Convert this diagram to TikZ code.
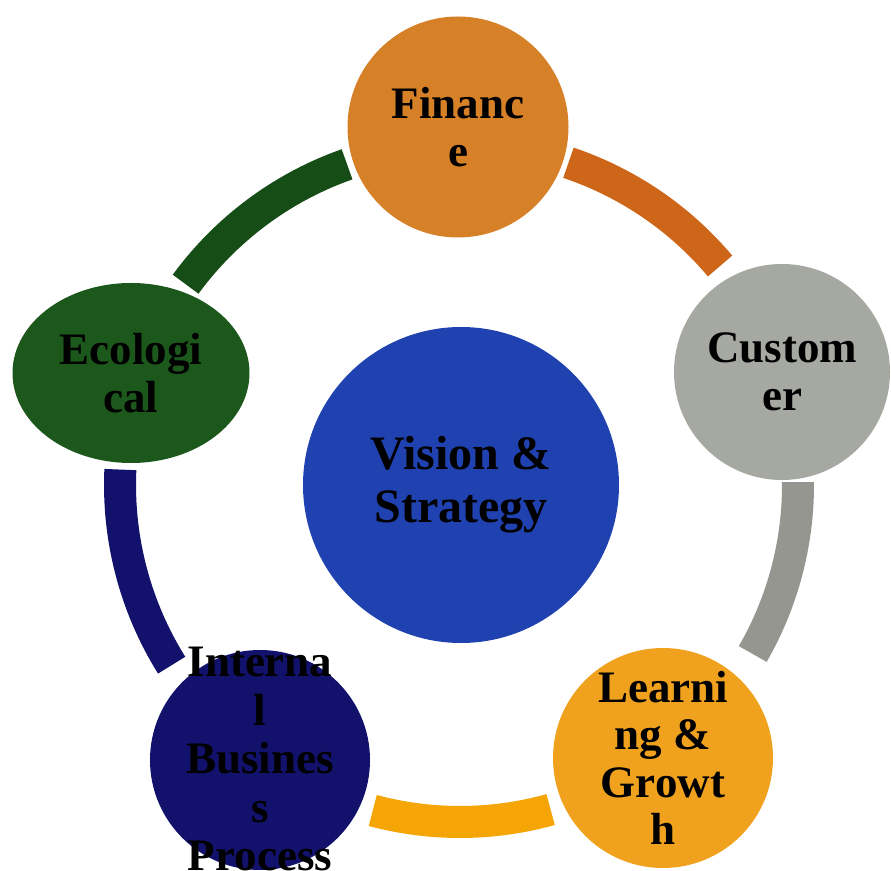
\documentclass[tikz,border=0pt]{standalone}
\usepackage{fontspec}
\setmainfont{Liberation Serif}
\usetikzlibrary{shapes.geometric}
\definecolor{finC}{RGB}{214,128,40}
\definecolor{finA}{RGB}{205,102,24}
\definecolor{cusC}{RGB}{166,168,162}
\definecolor{cusA}{RGB}{150,150,145}
\definecolor{lrnC}{RGB}{240,162,30}
\definecolor{lrnA}{RGB}{245,165,5}
\definecolor{ibpC}{RGB}{18,18,108}
\definecolor{ecoC}{RGB}{28,88,28}
\definecolor{ecoA}{RGB}{22,76,22}
\definecolor{visC}{RGB}{32,66,176}
\begin{document}
\begin{tikzpicture}[x=1pt,y=1pt,
  disc/.style={circle,inner sep=0pt,minimum size=#1},
  ringarc/.style={line width=32pt},
  lbl/.style={align=center,font=\bfseries\fontsize{45}{47.5}\selectfont,text=black,inner sep=0pt},
  biglbl/.style={align=center,font=\bfseries\fontsize{48}{53}\selectfont,text=black,inner sep=0pt}]
\useasboundingbox (0,0) rectangle (891,870);
\clip (0,0) rectangle (891,870);
% discs
\node[disc=316pt, fill=visC] (vis) at (461,385) {};
\coordinate (rc) at (460,385);
\node[disc=221pt, fill=finC] (fin) at (458,743) {};
\node[disc=216pt, fill=cusC] (cus) at (782,498) {};
\node[disc=220pt, fill=lrnC] (lrn) at (663,112) {};
\node[disc=220pt, fill=ibpC] (ibp) at (260,110) {};
\node[ellipse, inner sep=0pt, minimum width=237pt, minimum height=180pt, fill=ecoC] (eco) at (131,497) {};
% ring segments (eco -> fin -> cus -> lrn -> ibp -> eco)
\draw[ringarc, draw=ecoA] ([shift={(143.8:340)}]rc) arc[start angle=143.8, end angle=109.4, radius=340];
\draw[ringarc, draw=finA] ([shift={(71.4:340)}]rc) arc[start angle=71.4, end angle=40.1, radius=340];
\draw[ringarc, draw=cusA] ([shift={(0.5:338)}]rc) arc[start angle=0.5, end angle=-30, radius=338];
\draw[ringarc, draw=lrnA] ([shift={(-74.4:337)}]rc) arc[start angle=-74.4, end angle=-105, radius=337];
\draw[ringarc, draw=ibpC] ([shift={(-148:340)}]rc) arc[start angle=-148, end angle=-182.6, radius=340];
% labels
\node[biglbl] (visT) at (vis) {Vision \&\\Strategy};
\node[lbl] (finT) at (fin) {Financ\\e};
\node[lbl] (cusT) at (cus) {Custom\\er};
\node[lbl] (lrnT) at (lrn) {Learni\\ng \&\\Growt\\h};
\node[lbl, font=\bfseries\fontsize{45}{48.5}\selectfont, anchor=north] (ibpT) at (260,223) {Interna\\l\\Busines\\s\\Process};
\node[lbl] (ecoT) at (eco) {Ecologi\\cal};
\end{tikzpicture}
\end{document}
